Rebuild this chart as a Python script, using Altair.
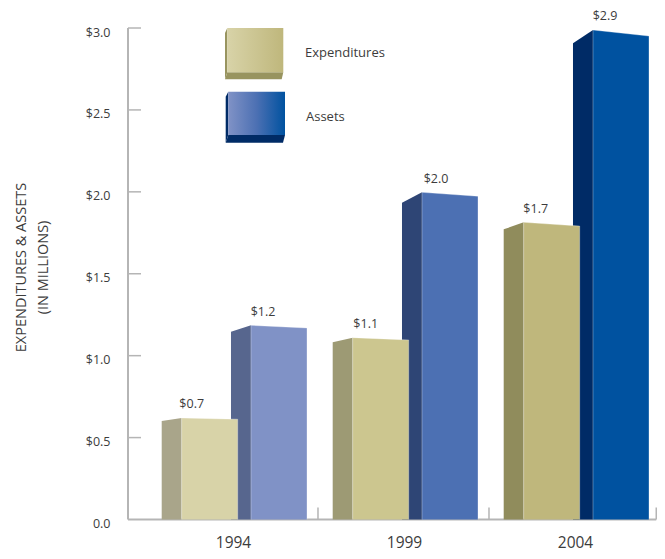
import altair as alt
import pandas as pd

FONT = "Open Sans"
TEXT = "#3c3c3c"
AXIS = "#b5b5b5"

years = [1994, 1999, 2004]
exp_labels = [0.7, 1.1, 1.7]
ast_labels = [1.2, 2.0, 2.9]
exp_top = [0.62, 1.11, 1.814]
exp_right = [0.612, 1.096, 1.791]
exp_side = [0.601, 1.082, 1.771]
ast_top = [1.185, 1.997, 2.988]
ast_right = [1.169, 1.973, 2.951]
ast_side = [1.146, 1.934, 2.907]
exp_front_colors = ["#d8d3a8", "#ccc68f", "#bfb77c"]
exp_side_colors = ["#a9a58a", "#9d9a74", "#908c5c"]
ast_front_colors = ["#8092c6", "#4c70b3", "#0052a0"]
ast_side_colors = ["#57668e", "#2e4575", "#002b66"]
y_ticks = [0.5, 1.0, 1.5, 2.0, 2.5, 3.0]
legend_names = ["Expenditures", "Assets"]
y_title = ["EXPENDITURES & ASSETS", "(IN MILLIONS)"]

# layout
PW, PH = 529, 511.5
PAD = {"left": 120, "right": 0, "top": 0, "bottom": 31.5}
PX_Y = 34.2  # px per year
PX_V = 163.83  # px per value unit
x_min = 1994 - 105 / PX_Y
x_max = x_min + PW / PX_Y
y_max = PH / PX_V
BAR_W = 56 / PX_Y
DEPTH = 20 / PX_Y
EXP_OFF = -1.5
AST_OFF = 0.526
SEP = 2.485
x_end = x_max - 0.75 / PX_Y
tick_x = [1994 + SEP, 1999 + SEP, x_end]
EXP_NUDGE = [30, 33, 32]
AST_NUDGE = [32, 34, 32]

xs = alt.Scale(domain=[x_min, x_max], nice=False, zero=False)
ys = alt.Scale(domain=[0, y_max], nice=False, zero=False)
x_axis = alt.Axis(
    values=years, format="d", ticks=False, domain=False, grid=False,
    labelFont=FONT, labelFontSize=15.5, labelColor=TEXT, labelPadding=15.5)
y_axis = alt.Axis(
    values=[0.0] + y_ticks, ticks=False, domain=False, grid=False,
    labelExpr="datum.value == 0 ? '0.0' : '$' + format(datum.value, '.1f')",
    labelFont=FONT, labelFontSize=12.5, labelColor=TEXT, labelPadding=18,
    labelOffset=4,
    titleFont=FONT, titleFontSize=14.5, titleFontWeight="normal", titleColor=TEXT,
    titleAnchor="middle", titleAngle=270, titleX=-100, titleY=259,
    titleLineHeight=22)
X = lambda f="x": alt.X(f"{f}:Q", scale=xs, axis=x_axis, title=None)
Y = lambda f="y": alt.Y(f"{f}:Q", scale=ys, axis=y_axis, title=y_title)


def faces(off, top, right, side, fc, sc, prefix):
    rows, edges, cols = [], [], []
    for i, yr in enumerate(years):
        x0 = yr + off
        x1 = x0 + BAR_W
        xs0 = x0 - DEPTH
        sname, fname = f"{prefix}{yr}side", f"{prefix}{yr}front"
        rows += [
            {"face": sname, "x": xs0, "y": side[i], "y2": 0},
            {"face": sname, "x": x0, "y": top[i], "y2": 0},
            {"face": fname, "x": x0, "y": top[i], "y2": 0},
            {"face": fname, "x": x1, "y": right[i], "y2": 0},
        ]
        edges += [
            {"face": fname, "o": 0, "x": x0, "y": 0},
            {"face": fname, "o": 1, "x": x0, "y": top[i]},
            {"face": fname, "o": 2, "x": x1, "y": right[i]},
            {"face": fname, "o": 3, "x": x1, "y": 0},
        ]
        cols += [(sname, sc[i]), (fname, fc[i])]
    return pd.DataFrame(rows), pd.DataFrame(edges), cols


def bars(df, edges, cols):
    dom = [c[0] for c in cols]
    rng = [c[1] for c in cols]
    a = alt.Chart(df).mark_area(interpolate="linear").encode(
        x=X(), y=Y(), y2="y2:Q",
        color=alt.Color("face:N", scale=alt.Scale(domain=dom, range=rng), legend=None),
    )
    e = alt.Chart(edges).mark_line(color="#ffffff", opacity=0.3, strokeWidth=1).encode(
        x=X(), y=Y(), detail="face:N", order="o:Q"
    )
    return a + e


ast_df, ast_e, ast_c = faces(AST_OFF, ast_top, ast_right, ast_side, ast_front_colors, ast_side_colors, "a")
exp_df, exp_e, exp_c = faces(EXP_OFF, exp_top, exp_right, exp_side, exp_front_colors, exp_side_colors, "e")

# axis lines and inward ticks
y_line = alt.Chart(pd.DataFrame({"x": [x_min], "y": [0.0], "y2": [3.0]})).mark_rule(color=AXIS, strokeWidth=2).encode(x=X(), y=Y(), y2="y2:Q")
x_line = alt.Chart(pd.DataFrame({"x": [x_min], "x2": [x_end], "y": [0.0]})).mark_rule(color=AXIS, strokeWidth=2).encode(x=X(), x2="x2:Q", y=Y())
y_tk = alt.Chart(pd.DataFrame({"x": [x_min] * len(y_ticks), "x2": [x_min + 13 / PX_Y] * len(y_ticks), "y": y_ticks})).mark_rule(color=AXIS, strokeWidth=1.5).encode(x=X(), x2="x2:Q", y=Y())
x_tk = alt.Chart(pd.DataFrame({"x": tick_x, "y": [0.0] * 3, "y2": [12 / PX_V] * 3})).mark_rule(color=AXIS, strokeWidth=1.5).encode(x=X(), y=Y(), y2="y2:Q")

# data labels
lab_df = pd.DataFrame(
    [{"x": yr + EXP_OFF - DEPTH + EXP_NUDGE[i] / PX_Y, "y": exp_top[i], "t": f"${exp_labels[i]:.1f}"} for i, yr in enumerate(years)]
    + [{"x": yr + AST_OFF - DEPTH + AST_NUDGE[i] / PX_Y, "y": ast_top[i], "t": f"${ast_labels[i]:.1f}"} for i, yr in enumerate(years)]
)
labels = alt.Chart(lab_df).mark_text(font=FONT, fontSize=12.5, color=TEXT, dy=-13.5).encode(x=X(), y=Y(), text="t:N")


# legend swatches
def lx(px):
    return x_min + (px - 128) / PX_Y


def ly(py):
    return (519.5 - py) / PX_V


def swatch(left, f0, f1, top, fb, bottom, bx1, dark, stops):
    edge = pd.DataFrame([
        {"p": "l", "x": lx(left), "y": ly(top + 5), "y2": ly(bottom)},
        {"p": "l", "x": lx(f0), "y": ly(top), "y2": ly(fb)},
        {"p": "b", "x": lx(left), "y": ly(bottom), "y2": ly(bottom)},
        {"p": "b", "x": lx(f0), "y": ly(fb), "y2": ly(bottom)},
        {"p": "b", "x": lx(bx1), "y": ly(fb), "y2": ly(bottom)},
        {"p": "b", "x": lx(f1), "y": ly(fb), "y2": ly(fb)},
    ])
    e = alt.Chart(edge).mark_area(color=dark).encode(x=X(), y=Y(), y2="y2:Q", detail="p:N")
    front = pd.DataFrame([
        {"x": lx(f0), "y": ly(top), "y2": ly(fb)},
        {"x": lx(f1), "y": ly(top), "y2": ly(fb)},
    ])
    grad = alt.Gradient(gradient="linear", stops=[alt.GradientStop(color=c, offset=o) for c, o in stops], x1=0, x2=1, y1=0, y2=0)
    f = alt.Chart(front).mark_area(color=grad).encode(x=X(), y=Y(), y2="y2:Q")
    return e + f


sw1 = swatch(225, 227.3, 283.3, 28, 72.3, 79.3, 281.7, "#98945f", [("#d8d3a8", 0), ("#bfb77c", 1)])
sw2 = swatch(225.7, 228.3, 285, 91.7, 135, 142.7, 283, "#002b66", [("#8092c6", 0), ("#4c70b3", 0.5), ("#0052a0", 1)])
leg_df = pd.DataFrame({
    "x": [lx(305), lx(306)],
    "y": [ly(53), ly(116.5)],
    "t": legend_names,
})
leg_text = alt.Chart(leg_df).mark_text(font=FONT, fontSize=13, color=TEXT, align="left").encode(x=X(), y=Y(), text="t:N")

chart = alt.layer(
    y_line, x_line, y_tk, x_tk,
    bars(ast_df, ast_e, ast_c), bars(exp_df, exp_e, exp_c),
    labels, sw1, sw2, leg_text,
).resolve_scale(color="independent").properties(
    width=PW, height=PH, padding=PAD, background="white",
    autosize=alt.AutoSizeParams(type="none")
).configure_view(strokeWidth=0)

chart.save("out.html", embed_options={"renderer": "svg", "actions": False})
